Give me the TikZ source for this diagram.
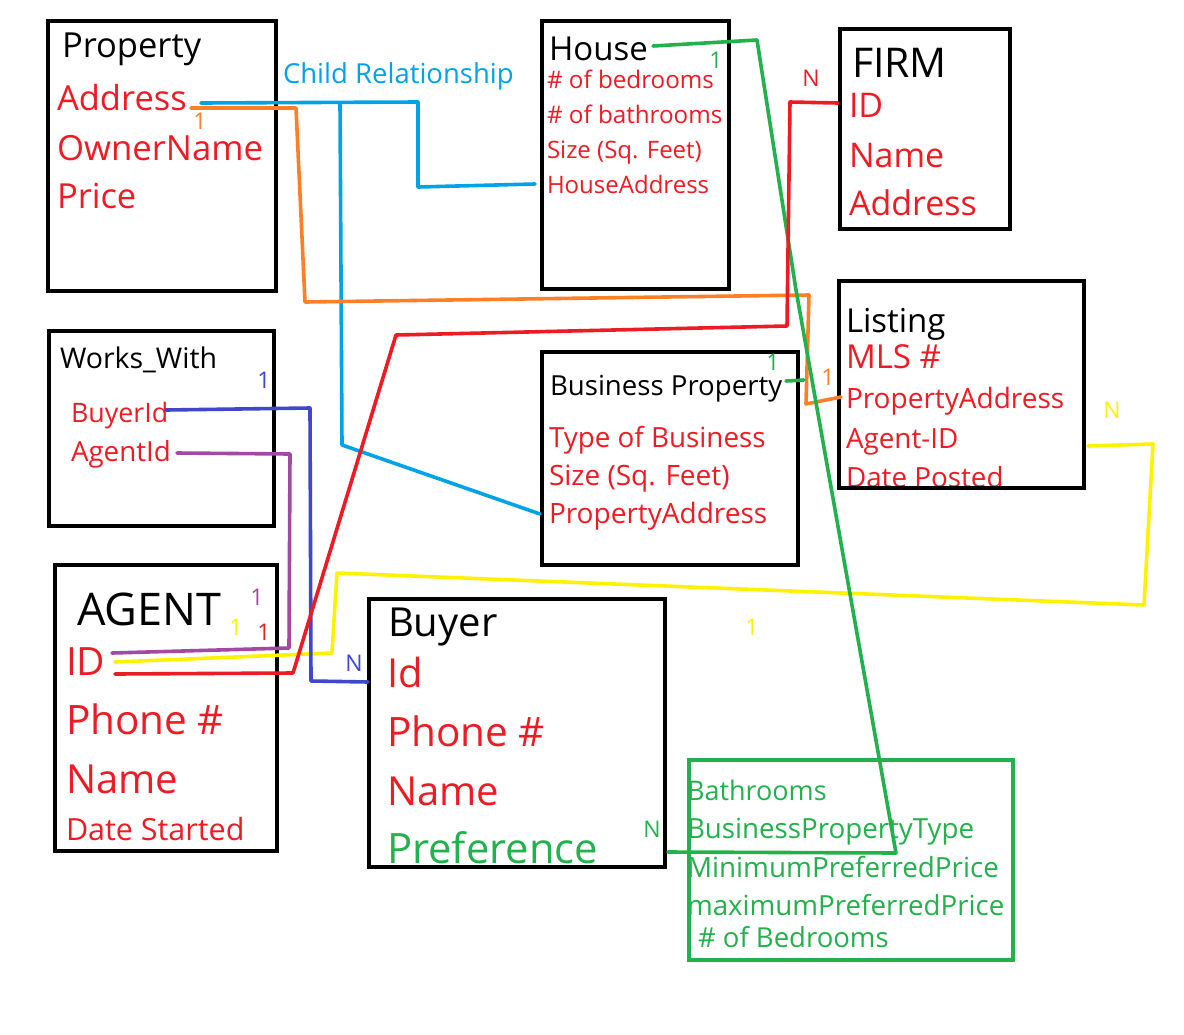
\documentclass[tikz,border=0pt]{standalone}
\usepackage{fontspec}
\setmainfont{Open Sans}
\definecolor{pred}{HTML}{ED1C24}
\definecolor{pblue}{HTML}{00A2E8}
\definecolor{porange}{HTML}{FF7F27}
\definecolor{pgreen}{HTML}{22B14C}
\definecolor{pyellow}{HTML}{FFF200}
\definecolor{ppurple}{HTML}{A349A4}
\definecolor{pindigo}{HTML}{3F48CC}
\newcommand{\fsz}[1]{\fontsize{#1pt}{#1pt}\selectfont}
\tikzset{
  txt/.style={anchor=base west, inner sep=0pt, outer sep=0pt},
  lbl/.style={anchor=center, inner sep=0pt, font=\fsz{23}},
  boxed/.style={draw=black, line width=4pt, anchor=north west, inner sep=0pt, outer sep=0pt},
  conn/.style={line width=3.6pt, line join=round, line cap=round},
}
\begin{document}
\begin{tikzpicture}[x=1pt,y=-1pt]
\useasboundingbox (0,0) rectangle (1184,1034);
\fill[white] (0,0) rectangle (1184,1034);

% ---------- texts ----------
% Property
\node[txt, font=\fsz{34.5}] (ptitle) at (62,57) {Property};
\node[txt, font=\fsz{34.5}, text=pred] (paddr) at (57,110) {Address};
\node[txt, font=\fsz{34.7}, text=pred] (powner) at (57,160) {OwnerName};
\node[txt, font=\fsz{34.5}, text=pred] (pprice) at (57,208) {Price};
\node[txt, font=\fsz{27.5}, text=pblue] (child) at (283,83) {Child Relationship};
% House
\node[txt, font=\fsz{33}] (htitle) at (549,60) {House};
\node[txt, font=\fsz{24.2}, text=pred] (hbed) at (547,88) {\# of bedrooms};
\node[txt, font=\fsz{24.2}, text=pred] (hbath) at (547,123) {\# of bathrooms};
\node[txt, font=\fsz{24}, text=pred] (hsize) at (547,158) {Size (Sq. Feet)};
\node[txt, font=\fsz{24}, text=pred] (haddr) at (547,193) {HouseAddress};
% FIRM
\node[txt, font=\fsz{41}] (ftitle) at (852,77) {FIRM};
\node[txt, font=\fsz{34}, text=pred] (fid) at (849,117) {ID};
\node[txt, font=\fsz{34}, text=pred] (fname) at (849,167) {Name};
\node[txt, font=\fsz{34}, text=pred] (faddr) at (849,215) {Address};
% Listing
\node[txt, font=\fsz{33}] (ltitle) at (846,332) {Listing};
\node[txt, font=\fsz{33}, text=pred] (lmls) at (846,368) {MLS \#};
\node[txt, font=\fsz{28}, text=pred] (lpaddr) at (846,408) {PropertyAddress};
\node[txt, font=\fsz{27.8}, text=pred] (lagent) at (846,448) {Agent-ID};
\node[txt, font=\fsz{27.8}, text=pred] (ldate) at (846,487) {Date Posted};
% Works_With
\node[txt, font=\fsz{28.5}] (wtitle) at (60,368) {Works\_With};
\node[txt, font=\fsz{26.8}, text=pred] (wbuyer) at (71,422) {BuyerId};
\node[txt, font=\fsz{27.7}, text=pred] (wagent) at (71,461) {AgentId};
% Business Property
\node[txt, font=\fsz{27.6}] (btitle) at (550,395) {Business Property};
\node[txt, font=\fsz{27.8}, text=pred] (btype) at (549,447) {Type of Business};
\node[txt, font=\fsz{28}, text=pred] (bsize) at (549,485) {Size (Sq. Feet)};
\node[txt, font=\fsz{28}, text=pred] (bpaddr) at (549,523) {PropertyAddress};
% AGENT
\node[txt, font=\fsz{45}] (atitle) at (77,625) {AGENT};
\node[txt, font=\fsz{39}, text=pred] (aid) at (66,675) {ID};
\node[txt, font=\fsz{40.5}, text=pred] (aphone) at (66,734) {Phone \#};
\node[txt, font=\fsz{40}, text=pred] (aname) at (66,793) {Name};
\node[txt, font=\fsz{30.5}, text=pred] (adate) at (66,840) {Date Started};
% Buyer
\node[txt, font=\fsz{40}] (ytitle) at (388,636) {Buyer};
\node[txt, font=\fsz{40}, text=pred] (yid) at (387,687) {Id};
\node[txt, font=\fsz{40.5}, text=pred] (yphone) at (387,746) {Phone \#};
\node[txt, font=\fsz{40}, text=pred] (yname) at (387,805) {Name};
\node[txt, font=\fsz{41.8}, text=pgreen] (ypref) at (387,863) {Preference};
% Preference box
\node[txt, font=\fsz{27}, text=pgreen] (rbath) at (687,800) {Bathrooms};
\node[txt, font=\fsz{27.7}, text=pgreen] (rbpt) at (687,838) {BusinessPropertyType};
\node[txt, font=\fsz{27.8}, text=pgreen] (rmin) at (687,877) {MinimumPreferredPrice};
\node[txt, font=\fsz{27.7}, text=pgreen] (rmax) at (687,915) {maximumPreferredPrice};
\node[txt, font=\fsz{27.5}, text=pgreen] (rbed) at (698,947) {\# of Bedrooms};

% ---------- boxes ----------
\node[boxed, minimum width=228pt, minimum height=270pt] (property) at (48,21) {};
\node[boxed, minimum width=187pt, minimum height=268pt] (house) at (542,21) {};
\node[boxed, minimum width=170pt, minimum height=200pt] (firm) at (840,29) {};
\node[boxed, minimum width=245pt, minimum height=207pt] (listing) at (839,281) {};
\node[boxed, minimum width=225pt, minimum height=195pt] (works) at (49,331) {};
\node[boxed, minimum width=256pt, minimum height=213pt] (business) at (542,352) {};
\node[boxed, minimum width=222pt, minimum height=286pt] (agent) at (55,565) {};
\node[boxed, minimum width=296pt, minimum height=268pt] (buyer) at (369,599) {};
\node[boxed, draw=pgreen, minimum width=324pt, minimum height=200pt] (pref) at (689,760) {};

% ---------- connector coordinates ----------
\coordinate (bl0) at (201,103);
\coordinate (bl1) at (418,102);
\coordinate (bl2) at (418,187);
\coordinate (bl3) at (535,184);
\coordinate (bl4) at (340,103);
\coordinate (bl5) at (342,445);
\coordinate (bl6) at (540,514);

\coordinate (or0) at (191,108);
\coordinate (or1) at (296,108);
\coordinate (or2) at (305,302);
\coordinate (or3) at (809,295);
\coordinate (or4) at (806,404);
\coordinate (or5) at (841,397);

\coordinate (rd0) at (115,674);
\coordinate (rd1) at (293,673);
\coordinate (rd2) at (396,335);
\coordinate (rd3) at (787,326);
\coordinate (rd4) at (790,102);
\coordinate (rd5) at (838,103);

\coordinate (gr0) at (653,46);
\coordinate (gr1) at (757,40);
\coordinate (gr2) at (796,290);
\coordinate (gr3) at (896,853);
\coordinate (gr4) at (668,852);
\coordinate (gr5) at (786,381);
\coordinate (gr6) at (804,380);

\coordinate (ye0) at (115,662);
\coordinate (ye1) at (332,653);
\coordinate (ye2) at (337,573);
\coordinate (ye3) at (1144,605);
\coordinate (ye4) at (1153,444);
\coordinate (ye5) at (1088,446);

\coordinate (pu0) at (177,453);
\coordinate (pu1) at (290,454);
\coordinate (pu2) at (289,648);
\coordinate (pu3) at (112,653);

\coordinate (in0) at (166,410);
\coordinate (in1) at (310,408);
\coordinate (in2) at (311,681);
\coordinate (in3) at (368,682);

% ---------- connectors ----------
\draw[conn, pblue] (bl0) -- (bl1) -- (bl2) -- (bl3);
\draw[conn, pblue] (bl4) -- (bl5) -- (bl6);
\draw[conn, porange] (or0) -- (or1) -- (or2) -- (or3) -- (or4) -- (or5);
\draw[conn, pyellow] (ye0) -- (ye1) -- (ye2) -- (ye3) -- (ye4) -- (ye5);
\draw[conn, pgreen] (gr0) -- (gr1) -- (gr2) -- (gr3) -- (gr4);
\draw[conn, pgreen] (gr5) -- (gr6);
\draw[conn, ppurple] (pu0) -- (pu1) -- (pu2) -- (pu3);
\draw[conn, pindigo] (in0) -- (in1) -- (in2) -- (in3);
\draw[conn, pred] (rd0) -- (rd1) -- (rd2) -- (rd3) -- (rd4) -- (rd5);

% ---------- cardinality labels ----------
\node[lbl, text=porange] (c1) at (200,121) {1};
\node[lbl, text=pgreen] (c2) at (716,60) {1};
\node[lbl, text=pred] (c3) at (811,78) {N};
\node[lbl, text=pgreen] (c4) at (773,362) {1};
\node[lbl, text=porange] (c5) at (828,377) {1};
\node[lbl, text=pyellow] (c6) at (1112,410) {N};
\node[lbl, text=pindigo] (c7) at (264,380) {1};
\node[lbl, text=ppurple] (c8) at (257,597) {1};
\node[lbl, text=pyellow] (c9) at (236,627) {1};
\node[lbl, text=pred] (c10) at (264,632) {1};
\node[lbl, text=pindigo] (c11) at (354,663) {N};
\node[lbl, text=pyellow] (c12) at (752,627) {1};
\node[lbl, text=pgreen] (c13) at (652,829) {N};
\end{tikzpicture}
\end{document}
